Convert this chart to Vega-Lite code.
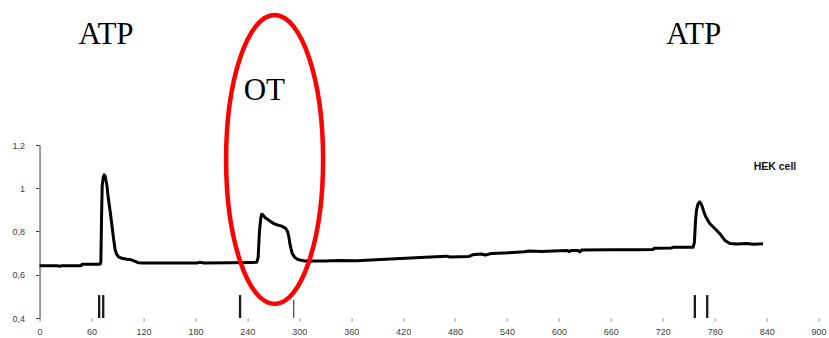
{
  "$schema": "https://vega.github.io/schema/vega-lite/v6.json",
  "width": 779,
  "height": 173,
  "autosize": {"type": "none"},
  "padding": {"left": 39.6, "top": 145, "right": 10.4, "bottom": 20},
  "background": "white",
  "config": {"view": {"stroke": null}, "font": "Liberation Sans"},
  "datasets": {
    "trace": [
      {"t": 0, "v": 0.642}, {"t": 20, "v": 0.642}, {"t": 23, "v": 0.639}, {"t": 26, "v": 0.642},
      {"t": 48, "v": 0.642}, {"t": 49, "v": 0.648}, {"t": 68, "v": 0.648}, {"t": 70, "v": 0.65},
      {"t": 70.8, "v": 0.66}, {"t": 71.5, "v": 0.85}, {"t": 72.3, "v": 1.01}, {"t": 73.5, "v": 1.05},
      {"t": 74.6, "v": 1.062}, {"t": 75.8, "v": 1.055}, {"t": 77.7, "v": 1.014}, {"t": 79.5, "v": 0.95},
      {"t": 81.6, "v": 0.891}, {"t": 83.5, "v": 0.83}, {"t": 85.4, "v": 0.768}, {"t": 87.3, "v": 0.714},
      {"t": 89, "v": 0.695}, {"t": 91.2, "v": 0.683}, {"t": 95, "v": 0.676}, {"t": 100.9, "v": 0.672},
      {"t": 105, "v": 0.67}, {"t": 110.5, "v": 0.662}, {"t": 114.3, "v": 0.655}, {"t": 120, "v": 0.654},
      {"t": 150, "v": 0.654}, {"t": 182, "v": 0.654}, {"t": 185, "v": 0.658}, {"t": 190, "v": 0.654},
      {"t": 220, "v": 0.655}, {"t": 245, "v": 0.657}, {"t": 251, "v": 0.658}, {"t": 252.5, "v": 0.68},
      {"t": 254, "v": 0.8}, {"t": 255.5, "v": 0.86}, {"t": 256.5, "v": 0.88}, {"t": 258, "v": 0.877},
      {"t": 260.3, "v": 0.865}, {"t": 263, "v": 0.858}, {"t": 266, "v": 0.849}, {"t": 269, "v": 0.841},
      {"t": 271.8, "v": 0.834}, {"t": 275, "v": 0.83}, {"t": 279.6, "v": 0.825}, {"t": 283.4, "v": 0.817},
      {"t": 285, "v": 0.81}, {"t": 286.5, "v": 0.799}, {"t": 288, "v": 0.775}, {"t": 289.1, "v": 0.745},
      {"t": 290.5, "v": 0.72}, {"t": 291.8, "v": 0.699}, {"t": 293.5, "v": 0.688}, {"t": 294.9, "v": 0.68},
      {"t": 297.5, "v": 0.672}, {"t": 300.7, "v": 0.668}, {"t": 306.5, "v": 0.664}, {"t": 330, "v": 0.664},
      {"t": 345, "v": 0.666}, {"t": 366, "v": 0.665}, {"t": 400, "v": 0.672}, {"t": 440, "v": 0.68},
      {"t": 470, "v": 0.686}, {"t": 474, "v": 0.682}, {"t": 496, "v": 0.684}, {"t": 500, "v": 0.692},
      {"t": 510, "v": 0.696}, {"t": 515, "v": 0.691}, {"t": 522, "v": 0.698}, {"t": 547, "v": 0.703},
      {"t": 560, "v": 0.706}, {"t": 565, "v": 0.71}, {"t": 580, "v": 0.708}, {"t": 600, "v": 0.711},
      {"t": 610, "v": 0.712}, {"t": 612, "v": 0.707}, {"t": 614, "v": 0.712}, {"t": 622, "v": 0.712},
      {"t": 624, "v": 0.706}, {"t": 626, "v": 0.714}, {"t": 660, "v": 0.716}, {"t": 690, "v": 0.716},
      {"t": 708.7, "v": 0.717}, {"t": 710, "v": 0.723}, {"t": 730, "v": 0.724}, {"t": 732, "v": 0.727},
      {"t": 755, "v": 0.727}, {"t": 756.5, "v": 0.75}, {"t": 757.8, "v": 0.85}, {"t": 759, "v": 0.9},
      {"t": 760.5, "v": 0.925}, {"t": 762.6, "v": 0.937}, {"t": 764, "v": 0.93}, {"t": 765.7, "v": 0.914},
      {"t": 767.5, "v": 0.89}, {"t": 769.6, "v": 0.868}, {"t": 774.2, "v": 0.837}, {"t": 780, "v": 0.814},
      {"t": 785.7, "v": 0.791}, {"t": 791.5, "v": 0.76}, {"t": 797.3, "v": 0.745}, {"t": 805, "v": 0.742},
      {"t": 816.5, "v": 0.745}, {"t": 825, "v": 0.741}, {"t": 835.7, "v": 0.743}
    ],
    "markers": [
      {"t": 68.8, "top": 0.506, "event": "ATP"},
      {"t": 73.5, "top": 0.506, "event": "ATP"},
      {"t": 231.6, "top": 0.506, "event": "OT"},
      {"t": 293.6, "top": 0.483, "event": "wash"},
      {"t": 757, "top": 0.506, "event": "ATP"},
      {"t": 771.3, "top": 0.506, "event": "ATP"}
    ],
    "labels": [
      {"t": 76.7, "v": 1.666, "text": "ATP"},
      {"t": 259.7, "v": 1.408, "text": "OT"},
      {"t": 755.7, "v": 1.666, "text": "ATP"}
    ],
    "note": [{"t": 825, "v": 1.084, "text": "HEK cell"}],
    "highlight": [{"t": 271.5, "v": 1.133}]
  },
  "layer": [
    {
      "data": {"name": "trace"},
      "mark": {"type": "line", "color": "black", "strokeWidth": 3, "strokeJoin": "round"},
      "encoding": {
        "x": {
          "field": "t", "type": "quantitative",
          "scale": {"domain": [0, 900], "nice": false, "zero": false},
          "axis": {
            "title": null, "grid": false, "domain": false,
            "values": [0, 30, 60, 90, 120, 150, 180, 210, 240, 270, 300, 330, 360, 390, 420, 450, 480, 510, 540, 570, 600, 630, 660, 690, 720, 750, 780, 810, 840, 870, 900],
            "labelExpr": "datum.value % 60 == 0 ? datum.label : ''",
            "labelOverlap": false, "labelFlush": false,
            "tickSize": 3, "tickColor": "#888", "tickWidth": 1,
            "labelFont": "Liberation Sans", "labelFontSize": 9, "labelColor": "#404040",
            "labelPadding": 6
          }
        },
        "y": {
          "field": "v", "type": "quantitative",
          "scale": {"domain": [0.4, 1.2], "nice": false, "zero": false},
          "axis": {
            "title": null, "grid": false,
            "values": [0.4, 0.6, 0.8, 1, 1.2],
            "labelExpr": "datum.value == 1 ? '1' : replace(format(datum.value, '.1f'), '.', ',')",
            "domainColor": "#999", "domainWidth": 2,
            "tickSize": 4, "tickColor": "#333", "tickWidth": 1,
            "labelFont": "Liberation Sans", "labelFontSize": 9, "labelColor": "#404040",
            "labelPadding": 11, "labelOverlap": false, "labelFlush": false
          }
        }
      }
    },
    {
      "data": {"name": "markers"},
      "transform": [{"filter": "datum.event != 'wash'"}],
      "mark": {"type": "rule", "color": "#1a1a1a", "strokeWidth": 2.3},
      "encoding": {
        "x": {"field": "t", "type": "quantitative", "title": null},
        "y": {"field": "top", "type": "quantitative", "title": null},
        "y2": {"datum": 0.4}
      }
    },
    {
      "data": {"name": "markers"},
      "transform": [{"filter": "datum.event == 'wash'"}],
      "mark": {"type": "rule", "color": "#444", "strokeWidth": 1.2},
      "encoding": {
        "x": {"field": "t", "type": "quantitative", "title": null},
        "y": {"field": "top", "type": "quantitative", "title": null},
        "y2": {"datum": 0.4}
      }
    },
    {
      "data": {"name": "labels"},
      "mark": {"type": "text", "font": "Liberation Serif", "fontSize": 31, "color": "black", "align": "center", "baseline": "alphabetic"},
      "encoding": {
        "x": {"field": "t", "type": "quantitative", "title": null},
        "y": {"field": "v", "type": "quantitative", "title": null},
        "text": {"field": "text"}
      }
    },
    {
      "data": {"name": "note"},
      "mark": {"type": "text", "font": "Liberation Sans", "fontSize": 10.5, "fontWeight": "bold", "color": "#111", "align": "left", "baseline": "alphabetic"},
      "encoding": {
        "x": {"field": "t", "type": "quantitative", "title": null},
        "y": {"field": "v", "type": "quantitative", "title": null},
        "text": {"field": "text"}
      }
    },
    {
      "data": {"name": "highlight"},
      "mark": {
        "type": "point",
        "shape": "M0,-1C0.1854,-1,0.3356,-0.5523,0.3356,0C0.3356,0.5523,0.1854,1,0,1C-0.1854,1,-0.3356,0.5523,-0.3356,0C-0.3356,-0.5523,-0.1854,-1,0,-1Z",
        "size": 83521,
        "filled": false,
        "stroke": "#ff0000",
        "strokeWidth": 4.5,
        "opacity": 1
      },
      "encoding": {
        "x": {"field": "t", "type": "quantitative", "title": null},
        "y": {"field": "v", "type": "quantitative", "title": null}
      }
    }
  ]
}
